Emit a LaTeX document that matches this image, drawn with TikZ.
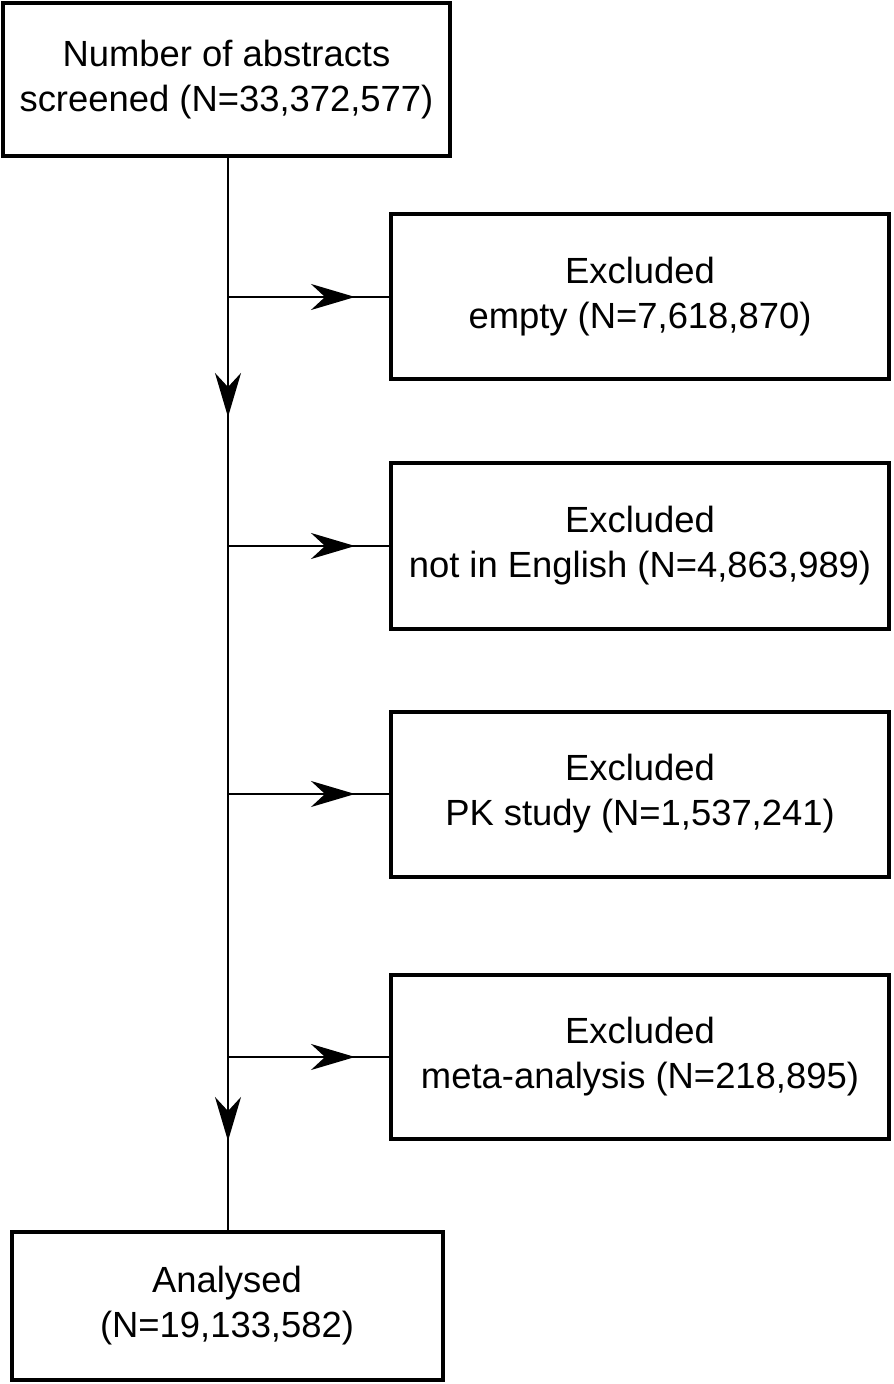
\documentclass[tikz,border=0pt]{standalone}
\usepackage{fontspec}
\setmainfont{Liberation Sans}
\usetikzlibrary{arrows.meta}
\begin{document}
\begin{tikzpicture}[x=0.5pt,y=-0.5pt,
  box/.style={draw,line width=2pt,align=center,inner sep=0pt,
    font=\fontsize{18.2}{22.5}\selectfont},
  conn/.style={line width=1pt},
  tip/.style={-{Stealth[length=22pt,width=13pt,inset=7pt]}}]
\useasboundingbox (0,0) rectangle (893,1384);
\node[box,minimum width=223.5pt,minimum height=76.5pt] (top) at (226.5,79.5) {Number of abstracts\\screened (N=33,372,577)};
\node[box,minimum width=249pt,minimum height=82.5pt] (e1) at (640,297) {Excluded\\empty (N=7,618,870)};
\node[box,minimum width=249pt,minimum height=82.5pt] (e2) at (640,546) {Excluded\\not in English (N=4,863,989)};
\node[box,minimum width=249pt,minimum height=82.5pt] (e3) at (640,794) {Excluded\\PK study (N=1,537,241)};
\node[box,minimum width=249pt,minimum height=82pt] (e4) at (640,1057) {Excluded\\meta-analysis (N=218,895)};
\node[box,minimum width=215.5pt,minimum height=74pt] (bot) at (227,1305.5) {Analysed\\(N=19,133,582)};
% junctions on the trunk
\coordinate (t0) at (228,156);
\coordinate (j1) at (228,297);
\coordinate (d1) at (228,417);
\coordinate (j2) at (228,546);
\coordinate (j3) at (228,794);
\coordinate (j4) at (228,1057);
\coordinate (d2) at (228,1141);
\coordinate (t5) at (228,1231);
% arrow tips on branches
\coordinate (h1) at (355,297);
\coordinate (h2) at (355,546);
\coordinate (h3) at (355,794);
\coordinate (h4) at (355,1057);
% trunk
\draw[conn] (t0) -- (t5);
\draw[conn,tip] (j1) -- (d1);
\draw[conn,tip] (j4) -- (d2);
% branches
\draw[conn] (j1) -- (e1.west);
\draw[conn,tip] (j1) -- (h1);
\draw[conn] (j2) -- (e2.west);
\draw[conn,tip] (j2) -- (h2);
\draw[conn] (j3) -- (e3.west);
\draw[conn,tip] (j3) -- (h3);
\draw[conn] (j4) -- (e4.west);
\draw[conn,tip] (j4) -- (h4);
\end{tikzpicture}
\end{document}
